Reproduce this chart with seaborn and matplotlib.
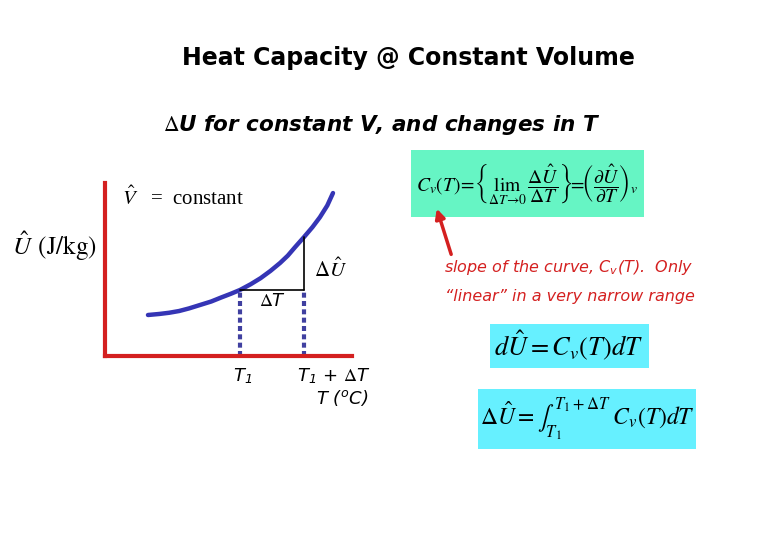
import numpy as np
import pandas as pd
import matplotlib
matplotlib.use("Agg")
import matplotlib.pyplot as plt
import seaborn as sns
from matplotlib.patches import Rectangle, FancyArrowPatch

sns.set_style("white")
plt.rcParams['font.family'] = ['DejaVu Sans']
plt.rcParams['mathtext.fontset'] = 'stix'
plt.rcParams['text.color'] = 'black'

# curve U(T) (arbitrary units, axes 0-10)
temp = [1.74, 2.2, 2.6, 3.0, 3.4, 3.85, 4.3, 4.7, 5.1, 5.47, 5.9, 6.3, 6.7,
        7.09, 7.4, 7.7, 8.06, 8.4, 8.7, 9.0, 9.23]
energy = [2.37, 2.43, 2.5, 2.6, 2.75, 2.95, 3.15, 3.38, 3.6, 3.82, 4.15, 4.5,
          4.92, 5.38, 5.8, 6.3, 6.88, 7.45, 8.02, 8.7, 9.42]
t1 = 5.47
t2 = 8.06
u1 = 3.82
u2 = 6.88

tick_pos = [t1, t2]
tick_labels = ["T$_\\mathregular{1}$", "T$_\\mathregular{1}$ + $\\Delta$T"]

curve = pd.DataFrame({"T": temp, "U": energy})

W, H = 780, 540
fig = plt.figure(figsize=(7.8, 5.4), dpi=100)
fig.patch.set_facecolor("white")

def fx(px):
    return px / W

def fy(py):
    return 1 - py / H

# plotting axes: x from 105 to 352 px, y from 183 to 356 px
ax = fig.add_axes([fx(105), fy(356), fx(352) - fx(105), (356 - 183) / H])
sns.lineplot(data=curve, x="T", y="U", ax=ax, color="#3535B5", lw=3.2)
ax.set_xlim(0, 10)
ax.set_ylim(0, 10)
ax.set_xlabel("")
ax.set_ylabel("")
ax.set_yticks([])
ax.set_xticks(tick_pos)
ax.set_xticklabels([])
ax.tick_params(axis="x", length=0)
for s in ["top", "right"]:
    ax.spines[s].set_visible(False)
for s in ["left", "bottom"]:
    ax.spines[s].set_color("#D42020")
    ax.spines[s].set_linewidth(3)
ax.patch.set_alpha(0)

# dotted drops and the delta triangle
ax.plot([t1, t1], [0, u1], ls=(0, (1.2, 0.8)), color="#4040A0", lw=3)
ax.plot([t2, t2], [0, u1], ls=(0, (1.2, 0.8)), color="#4040A0", lw=3)
ax.plot([t1, t2], [u1, u1], color="black", lw=1.2)
ax.plot([t2, t2], [u1, u2], color="black", lw=1.2)

ax.text(t1 + 0.1, -1.2, tick_labels[0], ha="center", va="center", fontsize=13,
        fontstyle="italic", clip_on=False)
ax.text(t2 - 0.3, -1.2, tick_labels[1], ha="left", va="center", fontsize=13,
        fontstyle="italic", clip_on=False)
ax.text((t1 + t2) / 2, u1 - 0.65, "$\\Delta$T", ha="center", va="center", fontsize=13,
        fontstyle="italic")
ax.text(t2 + 0.4, u1 + 1.2, "$\\Delta\\hat{U}$", ha="left", va="center", fontsize=15)
ax.text(9.6, -2.45, "T ($^\\mathregular{o}$C)", ha="center", va="center", fontsize=13,
        fontstyle="italic", clip_on=False)
ax.text(0.7, 9.1, "$\\hat{V}$   =  constant", ha="left", va="center", fontsize=15,
        family="Liberation Serif")

fig.text(fx(12), fy(246), "$\\hat{U}$ $\\left(\\mathrm{J/kg}\\right)$", ha="left",
         va="center", fontsize=18)

# headings
fig.text(fx(408), fy(58), "Heat Capacity @ Constant Volume", ha="center", va="center",
         fontsize=17, fontweight="bold")
fig.text(fx(163), fy(125), "$\\Delta$U for constant V, and changes in T", ha="left",
         va="center", fontsize=15.5, fontweight="bold", fontstyle="italic")

# formula boxes
boxes = [(411, 150, 644, 217, "#66F5C4"), (490, 324, 649, 368, "#66F0FF"),
         (478, 389, 696, 449, "#66F0FF")]
for x0, y0, x1, y1, c in boxes:
    fig.patches.append(Rectangle((fx(x0), fy(y1)), fx(x1) - fx(x0), (y1 - y0) / H,
                                 transform=fig.transFigure, facecolor=c, edgecolor="none"))

fig.text(fx(527), fy(183),
         "$C_v(T)\\!=\\!\\left\\{\\lim_{\\Delta T\\rightarrow 0}\\,\\dfrac{\\Delta\\hat{U}}{\\Delta T}\\right\\}"
         "\\!=\\!\\left(\\dfrac{\\partial\\hat{U}}{\\partial T}\\right)_v$",
         ha="center", va="center", fontsize=14)
fig.text(fx(569), fy(346), "$d\\hat{U} = C_v(T)dT$", ha="center", va="center", fontsize=19)
fig.text(fx(587), fy(419), "$\\Delta\\hat{U} = \\int_{T_1}^{T_1+\\Delta T}\\ C_v(T)dT$",
         ha="center", va="center", fontsize=17)

# red note and arrow
fig.text(fx(444), fy(268), "slope of the curve, C$_\\mathregular{v}$(T).  Only", ha="left",
         va="center", fontsize=11.5, fontstyle="italic", color="#D42020")
fig.text(fx(445), fy(296), "\u201clinear\u201d in a very narrow range", ha="left",
         va="center", fontsize=11.5, fontstyle="italic", color="#D42020")
fig.patches.append(FancyArrowPatch((fx(452), fy(257)), (fx(436), fy(206)),
                                   transform=fig.transFigure, arrowstyle="-|>",
                                   mutation_scale=14, color="#D42020", lw=2.5))

fig.savefig("out.png", dpi=100)
